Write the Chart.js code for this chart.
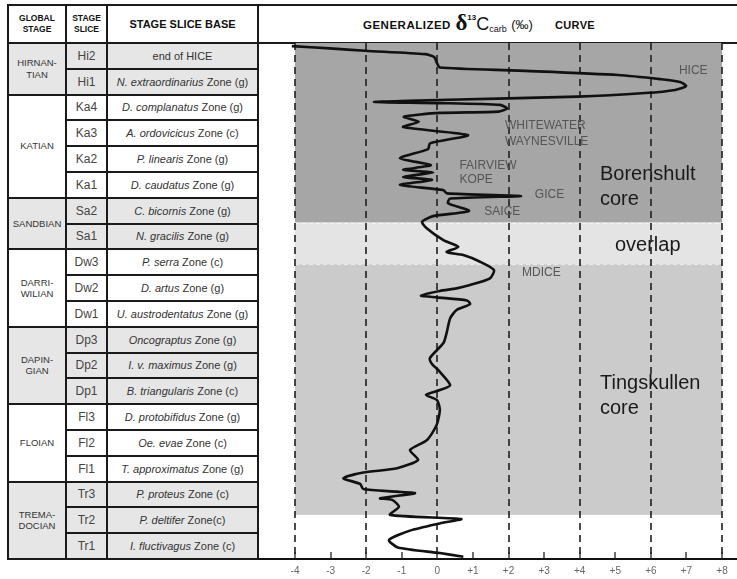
<!DOCTYPE html>
<html><head><meta charset="utf-8">
<script src="https://cdn.jsdelivr.net/npm/chart.js@4.4.1/dist/chart.umd.min.js"></script>
<style>
html,body{margin:0;padding:0;background:#fff;}
body{width:737px;height:579px;position:relative;overflow:hidden;font-family:"Liberation Sans",Arial,sans-serif;}
.bg{position:absolute;}
.txt{position:absolute;display:flex;align-items:center;justify-content:center;text-align:center;white-space:nowrap;color:#333;}
.ln{position:absolute;background:#1a1a1a;}
#ttl{position:absolute;left:363px;top:5px;height:38px;line-height:38px;text-align:left;color:#111;white-space:nowrap;}
#wrap{position:absolute;left:258px;top:43px;width:479px;height:536px;}
</style></head>
<body>
<div id="tbl"></div>
<div id="ttl"><span style="font:bold 11.5px 'Liberation Sans',Arial;letter-spacing:0.5px">GENERALIZED</span>&nbsp;<span style="font:bold 23px 'Liberation Serif',serif;vertical-align:-1px">δ</span><sup style="font:bold 8px 'Liberation Sans',Arial;vertical-align:9px">13</sup><span style="font:18px 'Liberation Sans',Arial;vertical-align:-1px">C</span><span style="font:9px 'Liberation Sans',Arial;vertical-align:-3px">carb</span>&nbsp;<span style="font:13px 'Liberation Sans',Arial">(‰)</span>&nbsp;&nbsp;&nbsp;&nbsp;&nbsp;<span style="font:bold 11px 'Liberation Sans',Arial;letter-spacing:0.3px">CURVE</span></div>
<div id="wrap"><canvas id="c"></canvas></div>
<script>
// ---------- DATA ----------
const stageNames = ["HIRNAN-\nTIAN", "KATIAN", "SANDBIAN", "DARRI-\nWILIAN", "DAPIN-\nGIAN", "FLOIAN", "TREMA-\nDOCIAN"];
const stageSliceCounts = [2, 4, 2, 3, 3, 3, 3];
const stageShaded = [true, false, true, false, true, false, true];
const sliceCodes = ["Hi2","Hi1","Ka4","Ka3","Ka2","Ka1","Sa2","Sa1","Dw3","Dw2","Dw1","Dp3","Dp2","Dp1","Fl3","Fl2","Fl1","Tr3","Tr2","Tr1"];
const zoneTaxa = ["", "N. extraordinarius", "D. complanatus", "A. ordovicicus", "P. linearis", "D. caudatus", "C. bicornis", "N. gracilis", "P. serra", "D. artus", "U. austrodentatus", "Oncograptus", "I. v. maximus", "B. triangularis", "D. protobifidus", "Oe. evae", "T. approximatus", "P. proteus", "P. deltifer", "I. fluctivagus"];
const zoneSuffix = ["end of HICE", "Zone (g)", "Zone (g)", "Zone (c)", "Zone (g)", "Zone (g)", "Zone (g)", "Zone (g)", "Zone (c)", "Zone (g)", "Zone (g)", "Zone (g)", "Zone (g)", "Zone (c)", "Zone (g)", "Zone (c)", "Zone (g)", "Zone (c)", "Zone(c)", "Zone (c)"];

// delta13C carb (permil) along stratigraphic position (0 = base of Tr1, 20 = top of Hi2)
const curveDelta = [-4.09,-3.02,-2.03,-0.35,-0.09,-0.01,0.07,2.27,5.08,6.26,6.82,6.99,6.68,5.84,3.95,0.02,-1.78,0.07,1.76,1.96,1.71,0.07,-0.94,-0.52,-0.96,0.86,-0.21,-0.26,-1.05,-0.18,-0.96,-0.12,-0.96,-0.15,-1.05,0.16,0.27,2.35,0.36,0.30,0.89,-0.12,-0.43,-0.30,0.17,0.59,0.26,0.73,1.20,1.59,1.48,0.92,0.54,0.07,-0.46,-0.02,0.83,0.92,0.54,0.36,0.26,0.17,-0.21,-0.15,0.02,0.36,0.07,-0.32,-0.01,0.07,-0.02,-0.29,-0.77,-0.54,-1.13,-2.08,-2.64,-2.17,-2.08,-1.14,-0.63,-1.61,-1.27,-1.08,-1.33,0.67,0.07,-0.77,-1.36,-1.11,0.07,0.73];
const curvePos = [19.88,19.79,19.70,19.57,19.46,19.22,19.05,18.93,18.76,18.60,18.49,18.33,18.18,18.06,17.92,17.79,17.71,17.67,17.60,17.46,17.34,17.29,17.14,16.95,16.74,16.43,16.11,15.89,15.53,15.27,15.08,14.98,14.81,14.69,14.50,14.30,14.17,14.07,13.97,13.79,13.49,13.29,13.07,12.82,12.36,12.10,11.90,11.78,11.52,11.20,10.88,10.62,10.49,10.39,10.21,10.14,10.02,9.88,9.65,9.33,8.76,8.37,7.79,7.56,7.33,6.74,6.55,6.36,6.16,5.78,5.19,4.61,4.22,3.84,3.52,3.35,3.13,2.91,2.71,2.61,2.55,2.35,2.29,2.02,1.71,1.55,1.38,1.10,0.74,0.45,0.23,0.09];

const tickValues = [-4,-3,-2,-1,0,1,2,3,4,5,6,7,8];
const tickLabels = ["-4","-3","-2","-1","0","+1","+2","+3","+4","+5","+6","+7","+8"];
const gridValues = [-4,-2,0,2,4,6,8];

const coreNames = ["Borenshult", "Tingskullen"];
const coreBase = [11.43, 1.71];
const coreTop = [20, 13.04];

const eventNames = ["HICE","WHITEWATER","WAYNESVILLE","FAIRVIEW","KOPE","GICE","SAICE","MDICE"];

// ---------- TABLE ----------
const TB = {x0: 8, x1: 66, x2: 107, x3: 258, top: 5, head: 43, bottom: 559};
const tbl = document.getElementById('tbl');
function box(cls, l, t, w, h, html, style) {
  const d = document.createElement('div');
  d.className = cls;
  d.style.left = l + 'px'; d.style.top = t + 'px'; d.style.width = w + 'px'; d.style.height = h + 'px';
  if (style) d.style.cssText += style;
  if (html !== undefined) d.innerHTML = html;
  tbl.appendChild(d);
  return d;
}
const nRows = sliceCodes.length;
const rowH = (TB.bottom - TB.head) / nRows;
const rowY = i => TB.head + i * rowH;
let r = 0;
stageNames.forEach((s, k) => {
  if (stageShaded[k]) box('bg', TB.x0, rowY(r), TB.x3 - TB.x0, rowH * stageSliceCounts[k], undefined, 'background:#e6e6e6');
  r += stageSliceCounts[k];
});
box('txt', TB.x0, TB.top, TB.x1 - TB.x0, TB.head - TB.top, 'GLOBAL<br>STAGE', 'font:bold 8.5px/1.35 "Liberation Sans",Arial;color:#111');
box('txt', TB.x1, TB.top, TB.x2 - TB.x1, TB.head - TB.top, 'STAGE<br>SLICE', 'font:bold 8.5px/1.35 "Liberation Sans",Arial;color:#111');
box('txt', TB.x2, TB.top, TB.x3 - TB.x2, TB.head - TB.top, 'STAGE SLICE BASE', 'font:bold 11px "Liberation Sans",Arial;color:#111');
r = 0;
stageNames.forEach((s, k) => {
  box('txt', TB.x0, rowY(r), TB.x1 - TB.x0, rowH * stageSliceCounts[k], s.replace('\n', '<br>'), 'font:9.5px/1.2 "Liberation Sans",Arial;color:#333');
  r += stageSliceCounts[k];
});
sliceCodes.forEach((c, i) => {
  box('txt', TB.x1, rowY(i), TB.x2 - TB.x1, rowH, c, 'font:12px "Liberation Sans",Arial;color:#444');
  const z = zoneTaxa[i] ? '<i>' + zoneTaxa[i] + '</i>&nbsp;' + zoneSuffix[i] : zoneSuffix[i];
  box('txt', TB.x2, rowY(i), TB.x3 - TB.x2, rowH, z, 'font:11px "Liberation Sans",Arial;color:#333');
});
function hl(xa, xb, y) { box('ln', xa, y - 1, xb - xa, 2); }
function vl(x, ya, yb) { box('ln', x - 1, ya, 2, yb - ya); }
hl(TB.x0, 737, TB.top);
hl(TB.x0, 737, TB.head);
hl(TB.x0, TB.x3, TB.bottom);
[TB.x0, TB.x1, TB.x2, TB.x3].forEach(x => vl(x, TB.top - 1, TB.bottom + 1));
for (let i = 1; i < nRows; i++) hl(TB.x1, TB.x3, rowY(i));
r = 0;
stageSliceCounts.forEach(n => { r += n; if (r < nRows) hl(TB.x0, TB.x1, rowY(r)); });

// ---------- CHART ----------
const bandColors = ['#a6a6a6', '#e4e4e4', '#cbcbcb'];
const backdrop = {
  id: 'backdrop',
  beforeDatasetsDraw(chart) {
    const {ctx, chartArea: a, scales: {x, y}} = chart;
    const xl = x.getPixelForValue(gridValues[0]);
    const xr = x.getPixelForValue(gridValues[gridValues.length - 1]);
    const edges = [coreTop[0], coreTop[1], coreBase[0], coreBase[1]];
    ctx.save();
    for (let i = 0; i < 3; i++) {
      const y1 = y.getPixelForValue(edges[i]), y2 = y.getPixelForValue(edges[i + 1]);
      ctx.fillStyle = bandColors[i];
      ctx.fillRect(xl, y1, xr - xl, y2 - y1);
    }
    ctx.strokeStyle = 'rgba(255,255,255,0.55)';
    ctx.lineWidth = 1;
    ctx.setLineDash([4, 3]);
    for (let i = 1; i < 4; i++) {
      const yy = Math.round(y.getPixelForValue(edges[i])) + 0.5;
      ctx.beginPath(); ctx.moveTo(xl, yy); ctx.lineTo(xr, yy); ctx.stroke();
    }
    ctx.strokeStyle = '#1e1e1e';
    ctx.lineWidth = 1.6;
    ctx.setLineDash([7, 5]);
    gridValues.forEach(v => {
      const px = Math.round(x.getPixelForValue(v));
      ctx.beginPath(); ctx.moveTo(px, a.top); ctx.lineTo(px, a.bottom); ctx.stroke();
    });
    ctx.setLineDash([]);
    ctx.lineWidth = 1.3;
    ctx.strokeStyle = '#222';
    tickValues.forEach(v => {
      const px = Math.round(x.getPixelForValue(v));
      ctx.beginPath(); ctx.moveTo(px, a.bottom); ctx.lineTo(px, a.bottom - 7); ctx.stroke();
    });
    ctx.restore();
  },
  afterDatasetsDraw(chart) {
    const {ctx, scales: {x, y}} = chart;
    const put = (t, vx, vy, font, color, align, base) => {
      ctx.font = font; ctx.fillStyle = color; ctx.textAlign = align; ctx.textBaseline = base;
      ctx.fillText(t, x.getPixelForValue(vx), y.getPixelForValue(vy));
    };
    ctx.save();
    const small = '12px "Liberation Sans", Arial';
    const smallC = '#555';
    put(eventNames[0], 7.19, 18.91, small, smallC, 'center', 'middle');
    put(eventNames[1], 1.90, 16.78, small, smallC, 'left', 'middle');
    put(eventNames[2], 1.90, 16.16, small, smallC, 'left', 'middle');
    put(eventNames[3], 0.62, 15.23, small, smallC, 'left', 'middle');
    put(eventNames[4], 0.62, 14.69, small, smallC, 'left', 'middle');
    put(eventNames[5], 2.74, 14.11, small, smallC, 'left', 'middle');
    put(eventNames[6], 1.32, 13.45, small, smallC, 'left', 'middle');
    put(eventNames[7], 2.38, 11.09, small, smallC, 'left', 'middle');
    const big = '20px "Liberation Sans", Arial';
    const bigC = '#1a1a1a';
    put(coreNames[0], 4.57, 14.69, big, bigC, 'left', 'alphabetic');
    put('core', 4.57, 13.72, big, bigC, 'left', 'alphabetic');
    put('overlap', 4.99, 11.94, big, bigC, 'left', 'alphabetic');
    put(coreNames[1], 4.57, 6.57, big, bigC, 'left', 'alphabetic');
    put('core', 4.57, 5.62, big, bigC, 'left', 'alphabetic');
    ctx.restore();
  }
};

new Chart(document.getElementById('c'), {
  type: 'scatter',
  data: {
    datasets: [{
      data: curveDelta.map((v, i) => ({x: v, y: curvePos[i]})),
      showLine: true,
      borderColor: '#111',
      borderWidth: 2.6,
      pointRadius: 0,
      tension: 0.22,
      fill: false
    }]
  },
  options: {
    responsive: true,
    maintainAspectRatio: false,
    animation: false,
    events: [],
    layout: {padding: 0},
    plugins: {legend: {display: false}, tooltip: {enabled: false}},
    scales: {
      x: {
        type: 'linear',
        min: -5.04,
        max: 8.42,
        afterBuildTicks: s => { s.ticks = tickValues.map(v => ({value: v})); },
        afterFit: s => { s.height = 20; },
        ticks: {
          autoSkip: false, maxRotation: 0, padding: 6,
          color: '#666',
          font: {family: '"Liberation Sans", Arial', size: 10},
          callback: v => tickLabels[tickValues.indexOf(v)]
        },
        grid: {display: false, drawTicks: false},
        border: {display: true, color: '#111', width: 2}
      },
      y: {type: 'linear', min: 0, max: 20, display: false}
    }
  },
  plugins: [backdrop]
});
</script>
</body></html>
